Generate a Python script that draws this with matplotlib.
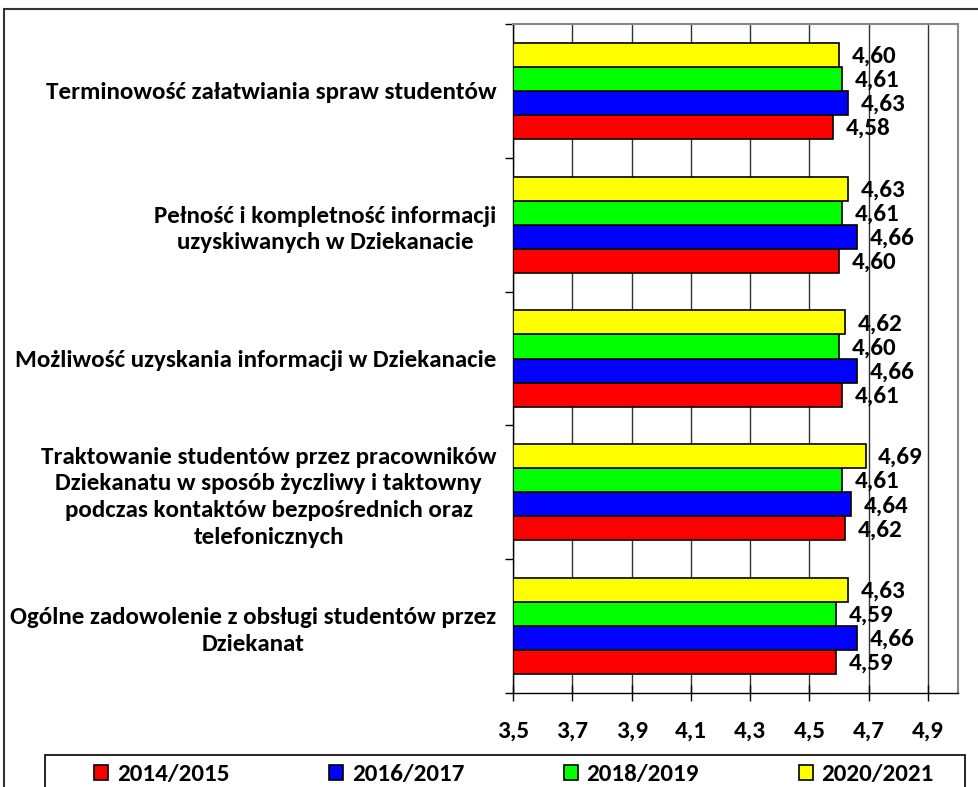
import matplotlib
matplotlib.use("Agg")
import matplotlib.pyplot as plt
from matplotlib.patches import Rectangle
import numpy as np

categories = [
    "Terminowość załatwiania spraw studentów",
    "Pełność i kompletność informacji\nuzyskiwanych w Dziekanacie",
    "Możliwość uzyskania informacji w Dziekanacie",
    "Traktowanie studentów przez pracowników\nDziekanatu w sposób życzliwy i taktowny\npodczas kontaktów bezpośrednich oraz\ntelefonicznych",
    "Ogólne zadowolenie z obsługi studentów przez\nDziekanat",
]
series_names = ["2014/2015", "2016/2017", "2018/2019", "2020/2021"]
v2014 = [4.58, 4.60, 4.61, 4.62, 4.59]
v2016 = [4.63, 4.66, 4.66, 4.64, 4.66]
v2018 = [4.61, 4.61, 4.60, 4.61, 4.59]
v2020 = [4.60, 4.63, 4.62, 4.69, 4.63]
xticks = [3.5, 3.7, 3.9, 4.1, 4.3, 4.5, 4.7, 4.9]
xticklabels = ["3,5", "3,7", "3,9", "4,1", "4,3", "4,5", "4,7", "4,9"]

colors = ["#FF0000", "#0000FF", "#00FF00", "#FFFF00"]
series = [v2014, v2016, v2018, v2020]

plt.rcParams['font.family'] = ['Carlito', 'DejaVu Sans']
plt.rcParams['font.weight'] = 'bold'
FS = 18

W, H = 979, 787
fig = plt.figure(figsize=(W/100, H/100), dpi=100)
ax = fig.add_axes([513/W, 1 - 693/H, (957.6-513)/W, (693-24)/H])

n = len(categories)
ypos = np.arange(n)[::-1].astype(float)
bh = 0.18
offsets = [-1.5*bh, -0.5*bh, 0.5*bh, 1.5*bh]
for s, vals, c, off in zip(series_names, series, colors, offsets):
    ax.barh(ypos + off, [v - 3.5 for v in vals], left=3.5, height=bh,
            color=c, edgecolor='black', linewidth=1.2, label=s, zorder=3)
    for y, v in zip(ypos + off, vals):
        ax.annotate(f"{v:.2f}".replace('.', ','), xy=(v, y), xytext=(9, -1),
                    textcoords='offset points', ha='left', va='center',
                    fontsize=FS, fontweight='bold', zorder=4)

ax.set_xlim(3.5, 5.0)
ax.set_ylim(-0.5, n - 0.5)
ax.set_xticks(xticks)
ax.set_xticklabels(xticklabels, fontsize=FS, fontweight='bold')
ax.tick_params(axis='x', direction='inout', length=12, width=1, pad=14)
ax.grid(axis='x', color='#333333', linewidth=1, zorder=0)

ax.set_yticks(ypos)
ax.set_yticklabels(categories, fontsize=FS, fontweight='bold')
for t in ax.get_yticklabels():
    t.set_multialignment('center')
    t.set_linespacing(1.33)
ax.tick_params(axis='y', length=0, pad=12)
ax.set_yticks(np.arange(n + 1) - 0.5, minor=True)
ax.tick_params(axis='y', which='minor', length=6, width=1, direction='out')

for side in ['top', 'right']:
    ax.spines[side].set_color('#888888')
    ax.spines[side].set_linewidth(1.5)
for side in ['left', 'bottom']:
    ax.spines[side].set_color('black')
    ax.spines[side].set_linewidth(1)

# outer chart border
fig.patches.append(Rectangle((4/W, -0.1), 1.2, 1 - 9/H + 0.1, transform=fig.transFigure,
                             fill=False, edgecolor='#333333', linewidth=1.5))
# legend box
fig.patches.append(Rectangle((45/W, -0.1), (965-45)/W, 1 - 755/H + 0.1, transform=fig.transFigure,
                             fill=False, edgecolor='black', linewidth=1.2))

leg = fig.legend(loc='center', bbox_to_anchor=(514/W, 1 - 775/H),
                 ncol=4, frameon=False, handlelength=0.55, handleheight=0.55,
                 handletextpad=0.35, columnspacing=4.0, borderaxespad=0,
                 prop={'size': FS, 'weight': 'bold'})

fig.savefig("out.png", dpi=100)
